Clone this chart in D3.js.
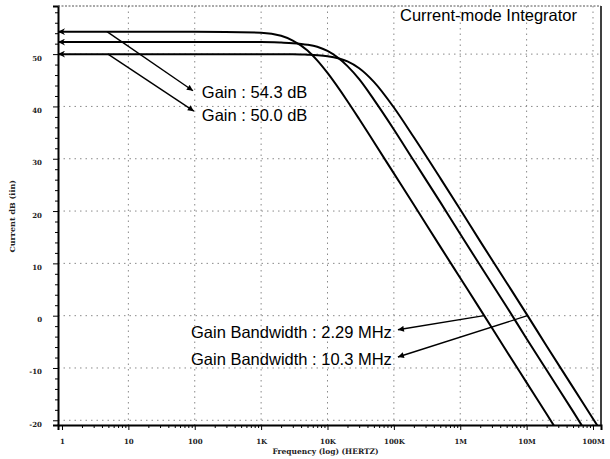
<!DOCTYPE html>
<html><head><meta charset="utf-8">
<script src="https://cdn.jsdelivr.net/npm/d3@7"></script>
<style>body{margin:0;background:#fff}svg{display:block}</style>
</head><body><svg id="c" width="610" height="459"></svg>
<script>
// ---- data ----
const freqs = [0.8706, 1, 10, 100, 1e3, 2e3, 3e3, 5e3, 7e3, 1e4, 2e4, 3e4, 5e4, 1e5, 2e5, 5e5, 1e6, 2e6, 5e6, 1e7, 2e7, 5e7, 1e8, 1.32e8];
const gain543 = [54.3, 54.3, 54.3, 54.3, 54.1, 53.5, 52.6, 50.7, 48.8, 46.4, 41.0, 37.6, 33.2, 27.2, 21.2, 13.2, 7.2, 1.2, -6.8, -12.8, -18.8, -26.8, -32.8, -35.2];
const gain523 = [52.3, 52.3, 52.3, 52.3, 52.3, 52.2, 52.1, 51.8, 51.4, 50.6, 47.7, 45.2, 41.3, 35.6, 29.6, 21.7, 15.6, 9.6, 1.7, -4.4, -10.4, -18.3, -24.4, -26.8];
const gain500 = [50.0, 50.0, 50.0, 50.0, 50.0, 50.0, 50.0, 49.9, 49.8, 49.6, 48.6, 47.3, 44.7, 39.8, 34.1, 26.3, 20.3, 14.2, 6.3, 0.3, -5.8, -13.7, -19.7, -22.1];
const seriesList = [gain543, gain523, gain500];

const xTickValues = [1, 10, 100, 1e3, 1e4, 1e5, 1e6, 1e7, 1e8];
const xTickLabels = ["1", "10", "100", "1K", "10K", "100K", "1M", "10M", "100M"];
const yTickValues = [50, 40, 30, 20, 10, 0, -10, -20];
const yTickLabels = ["50", "40", "30", "20", "10", "0", "-10", "-20"];

const titleText = "Current-mode Integrator";
const xTitle = "Frequency (log) (HERTZ)";
const yTitle = "Current dB (iin)";

// annotation arrows (frequency, dB)
const annoTexts = ["Gain : 54.3 dB", "Gain : 50.0 dB", "Gain Bandwidth : 2.29 MHz", "Gain Bandwidth : 10.3 MHz"];
const annoFrom = [[4.76, 54.3], [4.93, 50.0], [2.29e6, 0], [10.3e6, 0]];
const annoTo = [[94, 43.0], [97, 39.1], [1.15e5, -2.7], [1.15e5, -7.9]];
const annoTextPos = [[128, 41.6], [128, 37.2], [9.33e4, -4.3], [9.33e4, -9.4]];
const annoAnchor = ["start", "start", "end", "end"];

// ---- layout ----
const L = 58, R = 601, T = 6, B = 425;
const svg = d3.select("#c");
const x = d3.scaleLog().domain([0.8706, 1.32e8]).range([L, R]);
const y = d3.scaleLinear().domain([-20.9, 59.2]).range([B, T]);

const defs = svg.append("defs");
defs.append("clipPath").attr("id", "clip").append("rect")
  .attr("x", L).attr("y", T).attr("width", R - L).attr("height", B - T);
defs.append("marker").attr("id", "head").attr("viewBox", "0 0 10 10")
  .attr("refX", 10).attr("refY", 5).attr("markerUnits", "userSpaceOnUse")
  .attr("markerWidth", 9).attr("markerHeight", 7).attr("orient", "auto-start-reverse")
  .append("path").attr("d", "M0,0 L10,5 L0,10 L3,5 z").attr("fill", "#000");
defs.append("marker").attr("id", "head2").attr("viewBox", "0 0 10 10")
  .attr("refX", 10).attr("refY", 5).attr("markerUnits", "userSpaceOnUse")
  .attr("markerWidth", 8).attr("markerHeight", 6).attr("orient", "auto-start-reverse")
  .append("path").attr("d", "M0,0 L10,5 L0,10 z").attr("fill", "#000");

// grid
const grid = svg.append("g").attr("stroke", "#8a8a8a").attr("stroke-width", 1).attr("stroke-dasharray", "1.5,4");
grid.selectAll("line.v").data(xTickValues.slice(1)).join("line")
  .attr("x1", d => x(d)).attr("x2", d => x(d)).attr("y1", T).attr("y2", B);
grid.selectAll("line.h").data(yTickValues).join("line")
  .attr("x1", L).attr("x2", R).attr("y1", d => y(d)).attr("y2", d => y(d));

// curves
const line = d3.line().x((d, i) => x(freqs[i])).y(d => y(d)).curve(d3.curveMonotoneX);
svg.append("g").selectAll("path").data(seriesList).join("path")
  .attr("d", d => line(d)).attr("fill", "none").attr("stroke", "#000")
  .attr("stroke-width", 2).attr("clip-path", "url(#clip)");
// left arrowheads
svg.append("g").selectAll("path").data(seriesList).join("path")
  .attr("d", d => `M${x(freqs[2])},${y(d[0])}L${x(freqs[0])},${y(d[0])}`)
  .attr("stroke", "none").attr("fill", "none").attr("marker-end", "url(#head)");

// axes
const yAxis = d3.axisLeft(y).tickValues(yTickValues).tickFormat((d, i) => yTickLabels[i]).tickSize(5).tickPadding(11);
const gy = svg.append("g").attr("transform", `translate(${L},0)`).call(yAxis);
const yMinor = d3.range(-20, 59, 2).filter(v => v % 10 !== 0);
svg.append("g").attr("transform", `translate(${L},0)`)
  .call(d3.axisLeft(y).tickValues(yMinor).tickSize(3).tickFormat(""))
  .call(g => g.select(".domain").remove());

const xAxis = d3.axisBottom(x).tickValues(xTickValues).tickFormat((d, i) => xTickLabels[i]).tickSize(5).tickPadding(9);
const gx = svg.append("g").attr("transform", `translate(0,${B})`).call(xAxis);
const xMinor = [];
[1, 10, 100, 1e3, 1e4, 1e5, 1e6, 1e7].forEach(dd => { for (let k = 2; k <= 9; k++) xMinor.push(k * dd); });
svg.append("g").attr("transform", `translate(0,${B})`)
  .call(d3.axisBottom(x).tickValues(xMinor).tickSize(3).tickFormat(""))
  .call(g => g.select(".domain").remove());

[gx, gy].forEach(g => {
  g.select(".domain").attr("stroke-width", 2);
  g.selectAll("text").attr("font-family", "'DejaVu Serif', serif").attr("font-weight", "bold")
    .attr("font-size", 7).attr("fill", "#222");
});
gy.selectAll("text").attr("dy", "0.85em");

// frame
svg.append("line").attr("x1", R).attr("x2", R).attr("y1", T).attr("y2", B).attr("stroke", "#000").attr("stroke-width", 1.5);
svg.append("line").attr("x1", L).attr("x2", R).attr("y1", T).attr("y2", T).attr("stroke", "#555").attr("stroke-width", 1).attr("stroke-dasharray", "2,1.5");

// axis titles
svg.append("text").attr("x", (x(1e3) + x(1e5)) / 2 - 2).attr("y", 454).attr("text-anchor", "middle")
  .attr("font-family", "'DejaVu Serif', serif").attr("font-weight", "bold").attr("font-size", 7.5).attr("fill", "#222")
  .text(xTitle);
svg.append("text").attr("transform", `translate(15,${y(19)}) rotate(-90)`).attr("text-anchor", "middle")
  .attr("font-family", "'DejaVu Serif', serif").attr("font-weight", "bold").attr("font-size", 8).attr("fill", "#222")
  .text(yTitle);

// title
svg.append("text").attr("x", 577).attr("y", 21).attr("text-anchor", "end")
  .attr("font-family", "'Liberation Sans', Arial, sans-serif").attr("font-size", 16.5).attr("fill", "#000")
  .text(titleText);

// annotations
const ag = svg.append("g");
annoTexts.forEach((t, i) => {
  ag.append("line").attr("x1", x(annoFrom[i][0])).attr("y1", y(annoFrom[i][1]))
    .attr("x2", x(annoTo[i][0])).attr("y2", y(annoTo[i][1]))
    .attr("stroke", "#000").attr("stroke-width", 1.4).attr("marker-end", "url(#head2)");
  ag.append("text").attr("x", x(annoTextPos[i][0])).attr("y", y(annoTextPos[i][1]))
    .attr("text-anchor", annoAnchor[i])
    .attr("font-family", "'Liberation Sans', Arial, sans-serif").attr("font-size", 16.5).attr("fill", "#000")
    .text(t);
});
</script>
</body></html>
